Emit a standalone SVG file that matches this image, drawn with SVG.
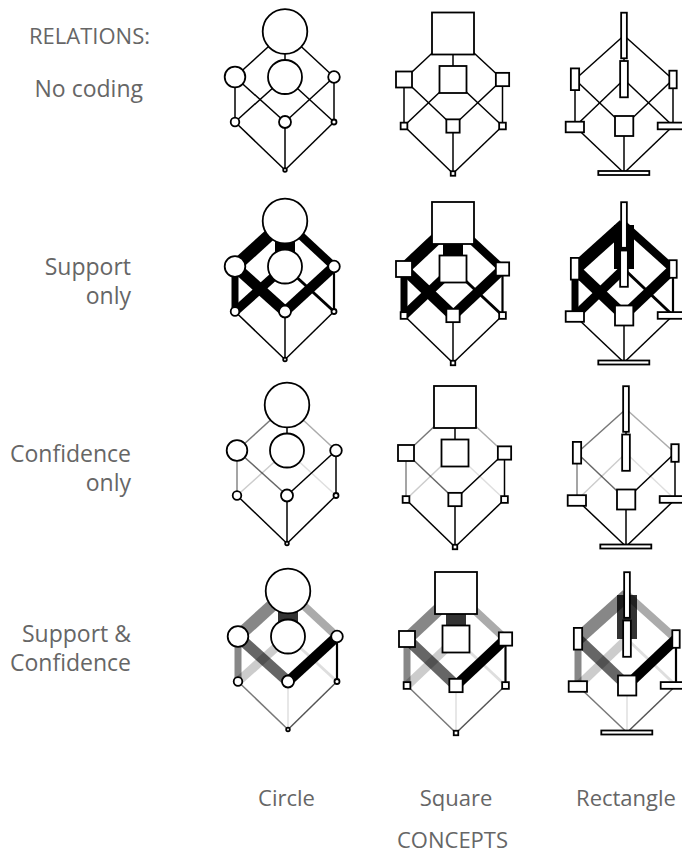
<svg xmlns="http://www.w3.org/2000/svg" width="682" height="854" viewBox="0 0 682 854">
<defs>
<style>
.bg{fill:#fff}
.t{font-family:"Open Sans","Liberation Sans",sans-serif;fill:#666;font-size:22px}
.t.l{font-size:23px}
.end{text-anchor:end}
.mid{text-anchor:middle}
.n{fill:#fff;stroke:#000;stroke-width:1.8}
.e line{stroke:#000;stroke-linecap:butt;fill:none}
.e1{stroke-width:var(--w1,1.5);stroke-opacity:var(--o1,1)}
.e2{stroke-width:var(--w2,1.5);stroke-opacity:var(--o2,1)}
.e3{stroke-width:var(--w3,1.5);stroke-opacity:var(--o3,1)}
.e4{stroke-width:var(--w4,1.5);stroke-opacity:var(--o4,1)}
.e5{stroke-width:var(--w5,1.5);stroke-opacity:var(--o5,1)}
.e6{stroke-width:var(--w6,1.5);stroke-opacity:var(--o6,1)}
.e7{stroke-width:var(--w7,1.5);stroke-opacity:var(--o7,1)}
.e8{stroke-width:var(--w8,1.5);stroke-opacity:var(--o8,1)}
.e9{stroke-width:var(--w9,1.5);stroke-opacity:var(--o9,1)}
.e10{stroke-width:1.5;stroke-opacity:var(--o10,1)}
.e11{stroke-width:1.5;stroke-opacity:var(--o11,1)}
.e12{stroke-width:1.5;stroke-opacity:var(--o12,1)}
.sup{--w1:12.5;--w2:20;--w3:8;--w4:7;--w5:11;--w6:9;--w7:3;--w8:10;--w9:2.2}
.conf{--o1:.53;--o3:.33;--o4:.47;--o5:.6;--o6:.2;--o7:.13}
.both{--o1:.47;--o2:.8;--o3:.33;--o4:.47;--o5:.6;--o6:.2;--o7:.13;--o10:.53;--o11:.13;--o12:.67}
</style>
<g id="circleEdges" class="e">
<line class="e1" x1="285" y1="31.5" x2="235" y2="77"/>
<line class="e2" x1="285" y1="31.5" x2="285" y2="77"/>
<line class="e3" x1="285" y1="31.5" x2="334" y2="77"/>
<line class="e4" x1="235" y1="77" x2="235" y2="122"/>
<line class="e5" x1="235" y1="77" x2="285" y2="122"/>
<line class="e6" x1="285" y1="77" x2="235" y2="122"/>
<line class="e7" x1="285" y1="77" x2="334" y2="122"/>
<line class="e8" x1="334" y1="77" x2="285" y2="122"/>
<line class="e9" x1="334" y1="77" x2="334" y2="122"/>
<line class="e10" x1="235" y1="122" x2="285" y2="170"/>
<line class="e11" x1="285" y1="122" x2="285" y2="170"/>
<line class="e12" x1="334" y1="122" x2="285" y2="170"/>
</g>
<g id="squareEdges" class="e">
<line class="e1" x1="453" y1="33.5" x2="404" y2="79.5"/>
<line class="e2" x1="453" y1="33.5" x2="453" y2="79.5"/>
<line class="e3" x1="453" y1="33.5" x2="502.5" y2="79.5"/>
<line class="e4" x1="404" y1="79.5" x2="404" y2="126"/>
<line class="e5" x1="404" y1="79.5" x2="453" y2="126"/>
<line class="e6" x1="453" y1="79.5" x2="404" y2="126"/>
<line class="e7" x1="453" y1="79.5" x2="502.5" y2="126"/>
<line class="e8" x1="502.5" y1="79.5" x2="453" y2="126"/>
<line class="e9" x1="502.5" y1="79.5" x2="502.5" y2="126"/>
<line class="e10" x1="404" y1="126" x2="453" y2="173.5"/>
<line class="e11" x1="453" y1="126" x2="453" y2="173.5"/>
<line class="e12" x1="502.5" y1="126" x2="453" y2="173.5"/>
</g>
<g id="rectEdges" class="e">
<line class="e1" x1="624" y1="35.5" x2="575" y2="79.5"/>
<line class="e2" x1="624" y1="35.5" x2="624" y2="79.5"/>
<line class="e3" x1="624" y1="35.5" x2="673" y2="79.5"/>
<line class="e4" x1="575" y1="79.5" x2="575" y2="126.5"/>
<line class="e5" x1="575" y1="79.5" x2="624" y2="126"/>
<line class="e6" x1="624" y1="79.5" x2="575" y2="126.5"/>
<line class="e7" x1="624" y1="79.5" x2="673" y2="126"/>
<line class="e8" x1="673" y1="79.5" x2="624" y2="126"/>
<line class="e9" x1="673" y1="79.5" x2="673" y2="126"/>
<line class="e10" x1="575" y1="126.5" x2="624" y2="173"/>
<line class="e11" x1="624" y1="126" x2="624" y2="173"/>
<line class="e12" x1="673" y1="126" x2="624" y2="173"/>
</g>
<g id="circleNodes">
<g id="cA"><circle class="n" cx="285" cy="31.5" r="22.3"/></g>
<g id="cL"><circle class="n" cx="235" cy="77" r="10.3"/></g>
<g id="cM"><circle class="n" cx="285" cy="77" r="17"/></g>
<g id="cR"><circle class="n" cx="334" cy="77" r="5.8"/></g>
<g id="cBL"><circle class="n" cx="235" cy="122" r="4.3"/></g>
<g id="cBM"><circle class="n" cx="285" cy="122" r="6"/></g>
<g id="cBR"><circle class="n" cx="334" cy="122" r="2.5"/></g>
<g id="cB"><circle class="n" cx="285" cy="170" r="1.8"/></g>
</g>
<g id="squareNodes">
<g id="sA"><rect class="n" x="432" y="12.5" width="42" height="42"/></g>
<g id="sL"><rect class="n" x="396" y="71.5" width="16" height="16"/></g>
<g id="sM"><rect class="n" x="439.5" y="66" width="27" height="27"/></g>
<g id="sR"><rect class="n" x="495.85" y="72.85" width="13.3" height="13.3"/></g>
<g id="sBL"><rect class="n" x="400.65" y="122.65" width="6.7" height="6.7"/></g>
<g id="sBM"><rect class="n" x="446.35" y="119.35" width="13.3" height="13.3"/></g>
<g id="sBR"><rect class="n" x="499.15" y="122.65" width="6.7" height="6.7"/></g>
<g id="sB"><rect class="n" x="450.75" y="171.25" width="4.5" height="4.5"/></g>
</g>
<g id="rectNodes">
<g id="rA"><rect class="n" x="621.15" y="12.7" width="5.7" height="45.6"/></g>
<g id="rL"><rect class="n" x="570.85" y="68.4" width="8.3" height="21.7"/></g>
<g id="rM"><rect class="n" x="620.15" y="61" width="7.7" height="36.3"/></g>
<g id="rR"><rect class="n" x="669.3" y="70.7" width="7.4" height="17.6"/></g>
<g id="rBL"><rect class="n" x="565.7" y="121.7" width="18.3" height="10.6"/></g>
<g id="rBM"><rect class="n" x="615" y="116" width="18.3" height="20"/></g>
<g id="rBR"><rect class="n" x="657.7" y="122.6" width="30.6" height="6.7"/></g>
<g id="rB"><rect class="n" x="598.3" y="171" width="51" height="4"/></g>
</g>
</defs>
<rect class="bg" x="0" y="0" width="682" height="854"/>

<g id="labels">
<text class="t end" x="150" y="44">RELATIONS:</text>
<text class="t l end" x="143" y="97">No coding</text>
<text class="t l end" x="131" y="275">Support</text>
<text class="t l end" x="131" y="304">only</text>
<text class="t l end" x="131" y="462">Confidence</text>
<text class="t l end" x="131" y="491">only</text>
<text class="t l end" x="131" y="642">Support &amp;</text>
<text class="t l end" x="131" y="671">Confidence</text>
<text class="t mid" x="286.5" y="806">Circle</text>
<text class="t mid" x="456" y="806">Square</text>
<text class="t mid" x="626" y="806">Rectangle</text>
<text class="t mid" x="452.5" y="848">CONCEPTS</text>
</g>

<g id="row1" class="plain">
<g id="r1-circle"><g id="r1-circle-connectors"><use href="#circleEdges"/></g><use id="r1-circle-nodes" href="#circleNodes"/></g>
<g id="r1-square"><g id="r1-square-connectors"><use href="#squareEdges"/></g><use id="r1-square-nodes" href="#squareNodes"/></g>
<g id="r1-rect"><g id="r1-rect-connectors"><use href="#rectEdges"/></g><use id="r1-rect-nodes" href="#rectNodes"/></g>
</g>
<g id="row2" class="sup" transform="translate(0,189.5)">
<g id="r2-circle"><g id="r2-circle-connectors"><use href="#circleEdges"/></g><use id="r2-circle-nodes" href="#circleNodes"/></g>
<g id="r2-square"><g id="r2-square-connectors"><use href="#squareEdges"/></g><use id="r2-square-nodes" href="#squareNodes"/></g>
<g id="r2-rect"><g id="r2-rect-connectors"><use href="#rectEdges"/></g><use id="r2-rect-nodes" href="#rectNodes"/></g>
</g>
<g id="row3" class="conf" transform="translate(2,373.5)">
<g id="r3-circle"><g id="r3-circle-connectors"><use href="#circleEdges"/></g><use id="r3-circle-nodes" href="#circleNodes"/></g>
<g id="r3-square"><g id="r3-square-connectors"><use href="#squareEdges"/></g><use id="r3-square-nodes" href="#squareNodes"/></g>
<g id="r3-rect"><g id="r3-rect-connectors"><use href="#rectEdges"/></g><use id="r3-rect-nodes" href="#rectNodes"/></g>
</g>
<g id="row4" class="sup both" transform="translate(3,559.5)">
<g id="r4-circle"><g id="r4-circle-connectors"><use href="#circleEdges"/></g><use id="r4-circle-nodes" href="#circleNodes"/></g>
<g id="r4-square"><g id="r4-square-connectors"><use href="#squareEdges"/></g><use id="r4-square-nodes" href="#squareNodes"/></g>
<g id="r4-rect"><g id="r4-rect-connectors"><use href="#rectEdges"/></g><use id="r4-rect-nodes" href="#rectNodes"/></g>
</g>
</svg>
